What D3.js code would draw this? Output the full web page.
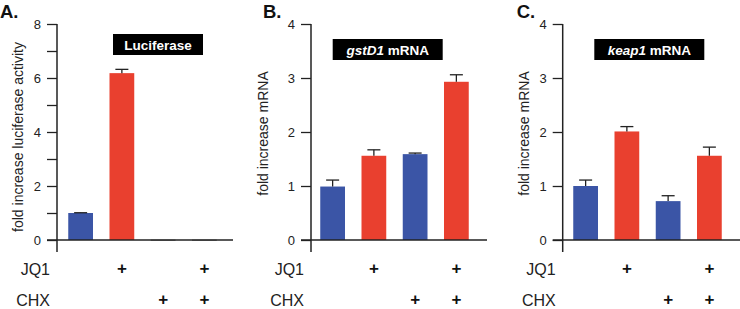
<!DOCTYPE html>
<html>
<head>
<meta charset="utf-8">
<script src="https://cdn.jsdelivr.net/npm/d3@7"></script>
<style>
  body { margin: 0; background: #fff; }
  text { font-family: "Liberation Sans", Arial, sans-serif; }
</style>
</head>
<body>
<svg id="chart" width="740" height="309"></svg>
<script>
// conditions along the x axis
const conditions = ["ctrl", "JQ1", "CHX", "JQ1+CHX"];
const jq1Marks = ["", "+", "", "+"];
const chxMarks = ["", "", "+", "+"];
const barColors = ["#3b55a6", "#e9402f", "#3b55a6", "#e9402f"];

// panel A: luciferase
const lucValues = [1.0, 6.18, 0.01, 0.01];
const lucErrors = [0.01, 0.14, 0, 0];
// panel B: gstD1 mRNA
const gstValues = [0.99, 1.56, 1.59, 2.93];
const gstErrors = [0.12, 0.11, 0.02, 0.13];
// panel C: keap1 mRNA
const keapValues = [1.0, 2.01, 0.72, 1.56];
const keapErrors = [0.11, 0.09, 0.1, 0.16];

const yTop = 24, yBase = 240;
const svg = d3.select("#chart");

function drawPanel(p) {
  let g = svg.append("g");

  let x = d3.scaleBand().domain(conditions)
    .range([p.axisX + p.bandOff, p.axisX + p.bandOff + 165])
    .paddingInner(0.4).paddingOuter(0.2);
  let y = d3.scaleLinear().domain([0, p.yMax]).range([yBase, yTop]);

  // bars
  g.selectAll("rect.bar").data(p.values).enter().append("rect")
    .attr("class", "bar")
    .attr("x", (d, i) => x(conditions[i]))
    .attr("width", x.bandwidth())
    .attr("y", d => y(d))
    .attr("height", d => Math.max(yBase - y(d), 0.8))
    .attr("fill", (d, i) => p.values[i] < 0.05 ? "#333" : barColors[i]);

  // error bars (upper only)
  let capW = 13;
  p.values.forEach((v, i) => {
    if (!p.errors[i]) return;
    let cx = x(conditions[i]) + x.bandwidth() / 2;
    g.append("line").attr("x1", cx).attr("x2", cx)
      .attr("y1", y(v)).attr("y2", y(v + p.errors[i]))
      .attr("stroke", "#222").attr("stroke-width", 1.3);
    g.append("line").attr("x1", cx - capW / 2).attr("x2", cx + capW / 2)
      .attr("y1", y(v + p.errors[i])).attr("y2", y(v + p.errors[i]))
      .attr("stroke", "#222").attr("stroke-width", 1.3);
  });

  // y axis
  let axis = d3.axisLeft(y).ticks(p.yMax).tickSize(10).tickPadding(6)
    .tickFormat(d => d % p.labelEvery === 0 ? d : "");
  let ax = g.append("g").attr("transform", "translate(" + p.axisX + ",0)").call(axis);
  ax.select(".domain").remove();
  ax.selectAll(".tick line").attr("stroke", "#222").attr("stroke-width", 1.3);
  ax.selectAll(".tick text").attr("fill", "#222").style("font-size", "13px");
  g.append("line").attr("x1", p.axisX).attr("x2", p.axisX)
    .attr("y1", yTop).attr("y2", 252)
    .attr("stroke", "#222").attr("stroke-width", 1.5);

  // baseline
  g.append("line").attr("x1", p.axisX - 10).attr("x2", p.baseEnd)
    .attr("y1", yBase).attr("y2", yBase)
    .attr("stroke", "#222").attr("stroke-width", 1.5);

  // y label
  g.append("text")
    .attr("transform", "translate(" + (p.labelX + 5) + "," + p.labelY + ") rotate(-90)")
    .attr("text-anchor", "middle").style("font-size", "14px").attr("fill", "#222")
    .text(p.yLabel);

  // panel letter
  g.append("text").attr("x", p.letterX).attr("y", 17.5)
    .style("font-size", "18.5px").style("font-weight", "900").attr("fill", "#111")
    .text(p.letter);

  // title box
  g.append("rect").attr("x", p.boxX - p.boxW / 2).attr("y", p.boxY)
    .attr("width", p.boxW).attr("height", 21).attr("fill", "#000");
  let t = g.append("text").attr("x", p.boxX).attr("y", p.boxY + 15.5)
    .attr("text-anchor", "middle").attr("fill", "#fff")
    .style("font-size", "13.5px").style("font-weight", "bold");
  if (p.gene) {
    t.append("tspan").style("font-style", "italic").text(p.gene);
    t.append("tspan").text(" mRNA");
  } else {
    t.text(p.title);
  }

  // treatment rows
  [["JQ1", jq1Marks, 275], ["CHX", chxMarks, 306]].forEach(row => {
    g.append("text").attr("x", p.axisX - 7).attr("y", row[2])
      .attr("text-anchor", "end").style("font-size", "16px").attr("fill", "#222")
      .text(row[0]);
    g.selectAll(null).data(row[1]).enter().append("text")
      .attr("x", (d, i) => x(conditions[i]) + x.bandwidth() / 2)
      .attr("y", row[2] - 1)
      .attr("text-anchor", "middle").style("font-size", "17px").style("font-weight", "bold")
      .attr("fill", "#111")
      .text(d => d);
  });
}

drawPanel({ axisX: 57, bandOff: 3, yMax: 8, labelEvery: 2, values: lucValues, errors: lucErrors,
  baseEnd: 233, labelX: 17.5, labelY: 137, yLabel: "fold increase luciferase activity",
  letter: "A.", letterX: 0, title: "Luciferase", boxX: 158, boxY: 34, boxW: 90 });
drawPanel({ axisX: 311, bandOff: 1, yMax: 4, labelEvery: 1, values: gstValues, errors: gstErrors,
  baseEnd: 487, labelX: 263, labelY: 133.5, yLabel: "fold increase mRNA",
  letter: "B.", letterX: 263, gene: "gstD1", boxX: 387.7, boxY: 39, boxW: 110 });
drawPanel({ axisX: 562.7, bandOff: 2.3, yMax: 4, labelEvery: 1, values: keapValues, errors: keapErrors,
  baseEnd: 740, labelX: 523.5, labelY: 133.5, yLabel: "fold increase mRNA",
  letter: "C.", letterX: 516.7, gene: "keap1", boxX: 649.3, boxY: 39, boxW: 110 });
</script>
</body>
</html>
